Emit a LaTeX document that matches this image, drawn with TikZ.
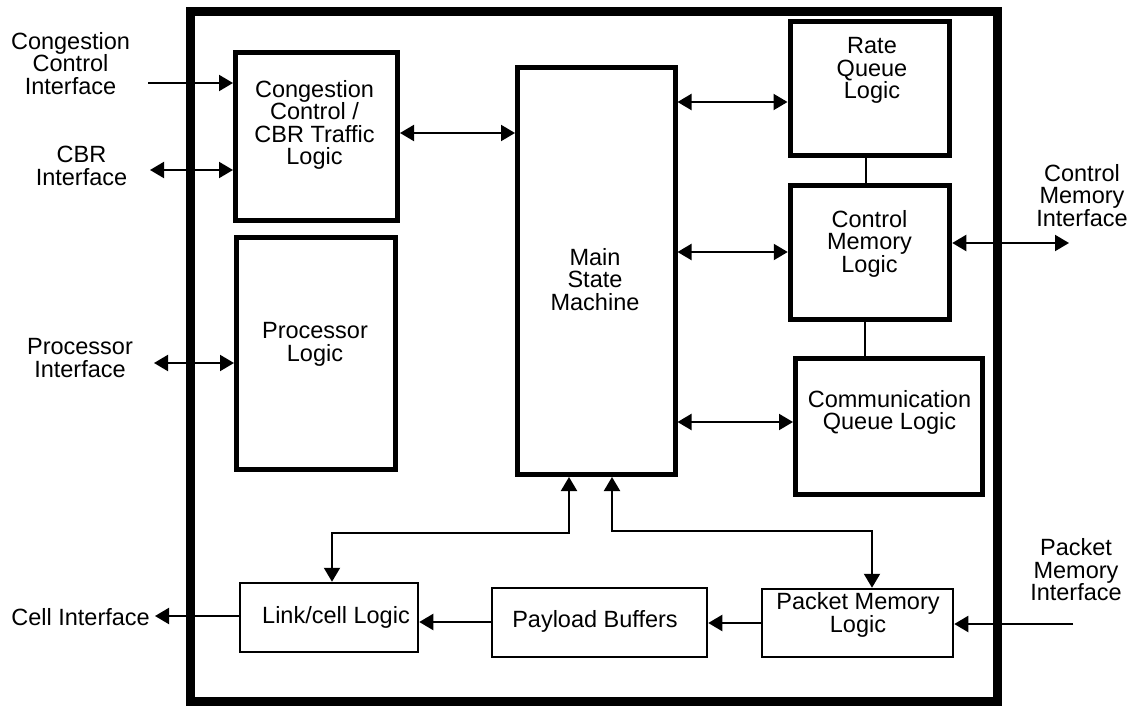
\documentclass[tikz,border=0pt]{standalone}
\usepackage{fontspec}
\setmainfont{Liberation Sans}
\usetikzlibrary{arrows.meta}
\begin{document}
\begin{tikzpicture}[x=1pt,y=-1pt,
  tip/.tip={Triangle[length=14pt,width=16pt]},
  thickbox/.style={draw,line width=5pt,inner sep=0pt},
  thinbox/.style={draw,line width=2.5pt,inner sep=0pt},
  chipbox/.style={draw,line width=9pt,inner sep=0pt},
  lbl/.style={align=center,inner sep=0pt,font=\fontsize{23.5}{22.5}\selectfont},
  conn/.style={line width=2pt},
  oneway/.style={conn,-tip},
  twoway/.style={conn,tip-tip}]
\useasboundingbox (0,0) rectangle (1137,706);

% outer chip border
\node[chipbox,minimum width=807pt,minimum height=689.5pt] (chip) at (593.5,356.75) {};

% blocks
\node[thickbox,minimum width=162pt,minimum height=168pt] (cc) at (316.5,136.5) {};
\node[thickbox,minimum width=159pt,minimum height=232pt] (proc) at (316,353.5) {};
\node[thickbox,minimum width=157.5pt,minimum height=407pt] (sm) at (596.25,271) {};
\node[thickbox,minimum width=159pt,minimum height=133pt] (rq) at (869.5,88.5) {};
\node[thickbox,minimum width=159.5pt,minimum height=134pt] (cm) at (870,252.5) {};
\node[thickbox,minimum width=186.5pt,minimum height=136pt] (cq) at (888.75,426.5) {};
\node[thinbox,minimum width=178pt,minimum height=69pt] (link) at (329,617.5) {};
\node[thinbox,minimum width=215pt,minimum height=69pt] (payload) at (599.5,622.5) {};
\node[thinbox,minimum width=191pt,minimum height=68pt] (packet) at (857.5,623) {};

% block texts
\node[lbl] (cctext) at (314.5,125) {Congestion\\Control /\\CBR Traffic\\Logic};
\node[lbl] (proctext) at (315,344.5) {Processor\\Logic};
\node[lbl] (smtext) at (595,279.5) {Main\\State\\Machine};
\node[lbl] (rqtext) at (872,70.5) {Rate\\Queue\\Logic};
\node[lbl] (cmtext) at (869.5,243.5) {Control\\Memory\\Logic};
\node[lbl] (cqtext) at (889.5,412.5) {Communication\\Queue Logic};
\node[lbl] (linktext) at (336,617) {Link/cell Logic};
\node[lbl] (payloadtext) at (595,621) {Payload Buffers};
\node[lbl] (packettext) at (858,615) {Packet Memory\\Logic};

% interface texts
\node[lbl] (ccitext) at (70.5,63.5) {Congestion\\Control\\Interface};
\node[lbl] (cbritext) at (81.5,166) {CBR\\Interface};
\node[lbl] (procitext) at (80,358) {Processor\\Interface};
\node[lbl,anchor=east] (cellitext) at (150,617) {Cell Interface};
\node[lbl] (cmitext) at (1082,195.5) {Control\\Memory\\Interface};
\node[lbl] (pktitext) at (1076,570) {Packet\\Memory\\Interface};

% free ends of interface connectors
\coordinate (ccin) at (148,83);
\coordinate (cbrout) at (150,170);
\coordinate (procout) at (154,363);
\coordinate (cellout) at (155,616);
\coordinate (cmout) at (1069,243);
\coordinate (pktin) at (1073,624);

% interface connectors
\draw[oneway] (ccin) -- (cc.west |- 0,83);
\draw[twoway] (cbrout) -- (cc.west |- 0,170);
\draw[twoway] (procout) -- (proc.west |- 0,363);
\draw[oneway] (link.west |- 0,616) -- (cellout);
\draw[twoway] (cm.east |- 0,243) -- (cmout);
\draw[oneway] (pktin) -- (packet.east |- 0,624);

% internal connectors
\draw[twoway] (cc.east |- 0,133) -- (sm.west |- 0,133);
\draw[twoway] (sm.east |- 0,102) -- (rq.west |- 0,102);
\draw[twoway] (sm.east |- 0,252) -- (cm.west |- 0,252);
\draw[twoway] (sm.east |- 0,422) -- (cq.west |- 0,422);
\draw[conn] (rq.south -| 866,0) -- (cm.north -| 866,0);
\draw[conn] (cm.south -| 865,0) -- (cq.north -| 865,0);
\draw[twoway] (link.north -| 332,0) -- (332,533) -| (sm.south -| 569,0);
\draw[twoway] (sm.south -| 612,0) -- (612,531) -| (packet.north -| 872,0);
\draw[oneway] (packet.west |- 0,623) -- (payload.east |- 0,623);
\draw[oneway] (payload.west |- 0,622) -- (link.east |- 0,622);
\end{tikzpicture}
\end{document}
